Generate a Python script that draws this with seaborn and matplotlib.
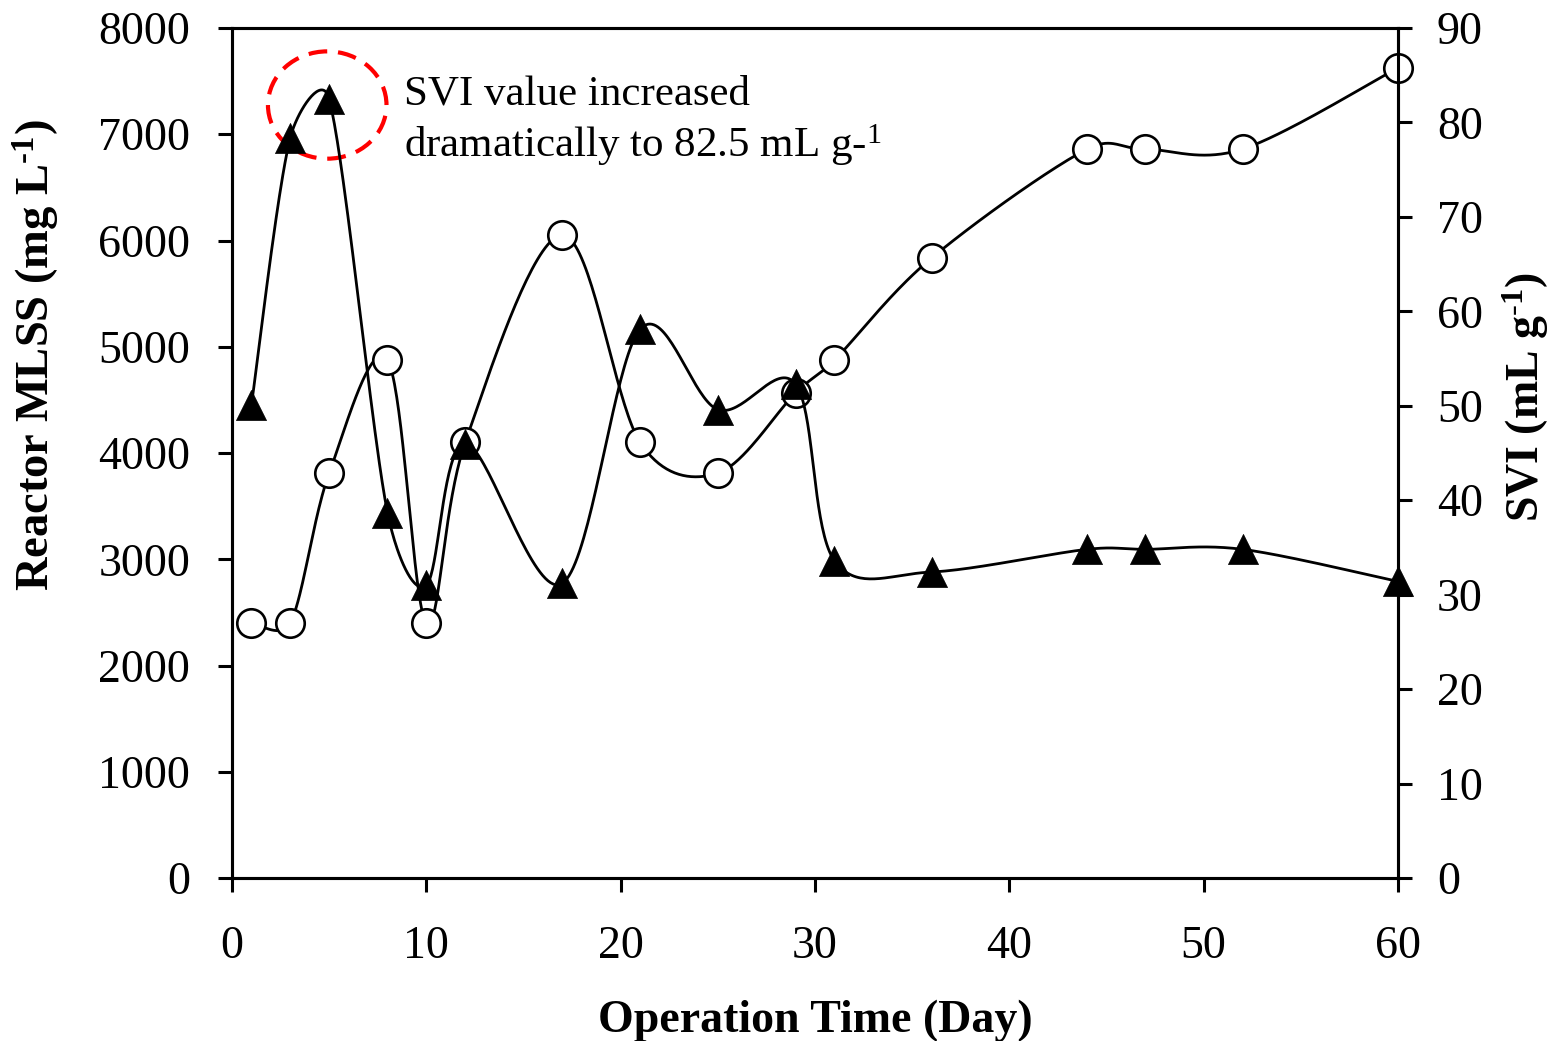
import numpy as np
import pandas as pd
import matplotlib
matplotlib.use("Agg")
import matplotlib.pyplot as plt
import seaborn as sns
from matplotlib.patches import Ellipse

# ---- data ----
days = [1, 3, 5, 8, 10, 12, 17, 21, 25, 29, 31, 36, 44, 47, 52, 60]
mlss = [2400, 2400, 3810, 4875, 2400, 4100, 6050, 4100, 3810, 4565, 4875, 5835, 6860, 6860, 6860, 7625]
svi = [50.1, 78.4, 82.5, 38.7, 31.0, 46.0, 31.2, 58.1, 49.6, 52.3, 33.6, 32.4, 34.8, 34.8, 34.8, 31.4]

x_ticks = [0, 10, 20, 30, 40, 50, 60]
left_ticks = [0, 1000, 2000, 3000, 4000, 5000, 6000, 7000, 8000]
right_ticks = [0, 10, 20, 30, 40, 50, 60, 70, 80, 90]

x_label = "Operation Time (Day)"
left_label = r"Reactor MLSS (mg L$^{\mathbf{\text{-}1}}$)"
right_label = r"SVI (mL g$^{\mathbf{\text{-}1}}$)"
note = "SVI value increased\ndramatically to 82.5 mL g-$^{1}$"


def smooth(axis, xs, ys, n=40):
    """Excel-like smoothed line: Bezier segments with 1/6 tangents, limited to
    half the segment length, computed in screen space."""
    pts = axis.transData.transform(np.column_stack([xs, ys]).astype(float))
    out = []
    for i in range(len(pts) - 1):
        p0 = pts[i - 1] if i > 0 else pts[i]
        p1 = pts[i]
        p2 = pts[i + 1]
        p3 = pts[i + 2] if i + 2 < len(pts) else pts[i + 1]
        d12 = np.hypot(*(p2 - p1))
        o1 = (p2 - p0) / 6.0
        o2 = (p3 - p1) / 6.0
        for o in (o1, o2):
            L = np.hypot(*o)
            if L > d12 / 2 and L > 0:
                o *= (d12 / 2) / L
        c1 = p1 + o1
        c2 = p2 - o2
        t = np.linspace(0, 1, n)[:, None]
        seg = ((1 - t) ** 3) * p1 + 3 * ((1 - t) ** 2) * t * c1 + 3 * (1 - t) * t ** 2 * c2 + t ** 3 * p2
        if i > 0:
            seg = seg[1:]
        out.append(seg)
    out = axis.transData.inverted().transform(np.vstack(out))
    return pd.DataFrame({"x": out[:, 0], "y": out[:, 1]})


sns.set_theme(style="white")
plt.rcParams["font.family"] = ["Liberation Serif", "DejaVu Serif"]
plt.rcParams["mathtext.fontset"] = "custom"
plt.rcParams["mathtext.rm"] = "Liberation Serif"
plt.rcParams["mathtext.bf"] = "Liberation Serif:bold"
plt.rcParams["mathtext.it"] = "Liberation Serif:italic"

fig = plt.figure(figsize=(15.57, 10.41), dpi=100)
ax = fig.add_axes([232 / 1557, 1 - 878 / 1041, (1398 - 232) / 1557, (878 - 28) / 1041])
ax2 = ax.twinx()

ax.set_xlim(0, 60)
ax.set_ylim(0, 8000)
ax2.set_ylim(0, 90)
ax2.set_xlim(0, 60)

df_m = pd.DataFrame({"day": days, "v": mlss})
df_s = pd.DataFrame({"day": days, "v": svi})

# MLSS (left axis, open circles)
cm = smooth(ax, days, mlss)
sns.lineplot(data=cm, x="x", y="y", sort=False, estimator=None, color="black",
             linewidth=2.0, ax=ax, zorder=2)
sns.scatterplot(data=df_m, x="day", y="v", marker="o", s=420, facecolor="white",
                edgecolor="black", linewidth=1.9, ax=ax, zorder=3, clip_on=False)

# SVI (right axis, filled triangles)
cs = smooth(ax2, days, svi)
sns.lineplot(data=cs, x="x", y="y", sort=False, estimator=None, color="black",
             linewidth=2.0, ax=ax2, zorder=2)
sns.scatterplot(data=df_s, x="day", y="v", marker="^", s=470, color="black",
                edgecolor="black", linewidth=0.5, ax=ax2, zorder=3, clip_on=False)

ax.set_xlim(0, 60)
ax.set_ylim(0, 8000)
ax2.set_ylim(0, 90)
ax.set_xticks(x_ticks)
ax.set_yticks(left_ticks)
ax2.set_yticks(right_ticks)

for a in (ax, ax2):
    for sp in a.spines.values():
        sp.set_color("black")
        sp.set_linewidth(2.2)
        sp.set_visible(True)
    a.tick_params(direction="out", length=10, width=2.2, color="black",
                  labelsize=33, labelcolor="black")

ax.tick_params(axis="y", left=True, right=False, pad=20)
ax.tick_params(axis="x", bottom=True, pad=24)
ax2.tick_params(axis="y", right=True, left=False, pad=18)

ax.set_xlabel(x_label, fontsize=33, fontweight="bold", labelpad=23, color="black")
ax.set_ylabel(left_label, fontsize=33.5, fontweight="bold", color="black")
ax2.set_ylabel(right_label, fontsize=33, fontweight="bold", rotation=90, color="black")
ax.yaxis.set_label_coords(-0.146, 0.615)
ax2.yaxis.set_label_coords(1.088, 0.566)
ax.grid(False)
ax2.grid(False)

# dashed red ellipse and note
ell = Ellipse((4.9, 7275), width=6.1, height=1010, fill=False, edgecolor="red",
              linewidth=3, linestyle=(0, (4.5, 2.6)), zorder=5)
ax.add_patch(ell)
ax.text(8.85, 7120, note, fontsize=31, va="center", ha="left", linespacing=1.22,
        color="black", zorder=6)

fig.savefig("out.png", dpi=100)
